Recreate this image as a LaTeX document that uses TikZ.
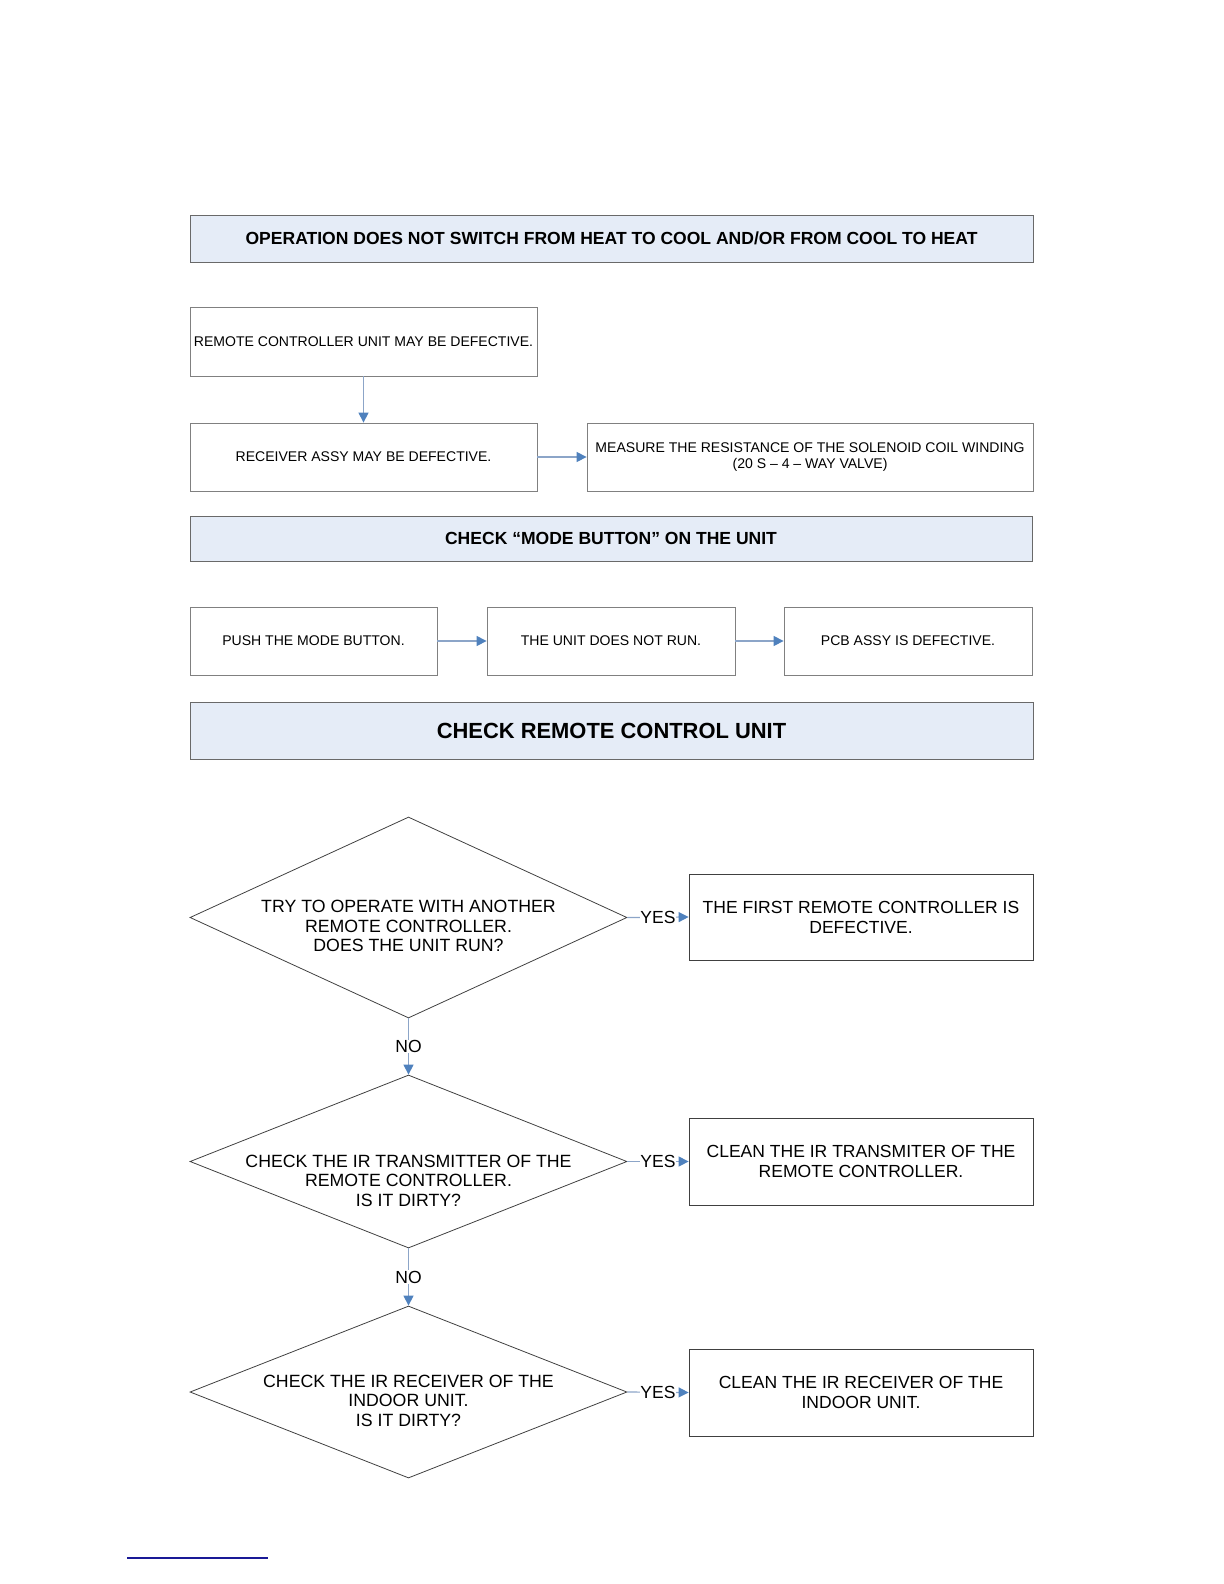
\documentclass[tikz,border=0pt]{standalone}
\usepackage{fontspec}
\setmainfont{Liberation Sans}
\definecolor{headfill}{RGB}{229, 236, 247}
\definecolor{headline}{RGB}{105, 105, 105}
\definecolor{boxline}{RGB}{128, 128, 128}
\definecolor{arrowblue}{RGB}{79, 129, 189}
\definecolor{stemblue}{RGB}{140, 165, 200}
\definecolor{linkblue}{RGB}{25, 25, 150}
\usetikzlibrary{shapes.geometric, arrows.meta, positioning}

\tikzset{
  headbar/.style={draw=headline, fill=headfill, inner sep=0pt, minimum width=421.5bp, font=\fontsize{8.8}{10}\selectfont\bfseries},
  stepbox/.style={draw=boxline, align=center, inner sep=1pt, minimum height=34bp, font=\fontsize{7.05}{8}\selectfont},
  answerbox/.style={draw=black!75, align=center, inner sep=0pt, minimum width=172bp, minimum height=43.5bp, font=\fontsize{8.8}{10}\selectfont},
  query/.style={diamond, draw=black!75, inner sep=0pt, minimum width=218.5bp},
  querytext/.style={align=center, font=\fontsize{8.9}{9.8}\selectfont},
  flow/.style={draw=stemblue, line width=0.6pt, -{Triangle[length=5pt, width=5pt, color=arrowblue]}},
  reply/.style={fill=white, inner sep=0.3pt, font=\fontsize{8.8}{10}\selectfont}
}

\begin{document}
\begin{tikzpicture}[x=1bp, y=-1bp]
  \useasboundingbox (0, 0) rectangle (612, 792);

  % Heading
  \node[headbar, minimum height=23.5bp] (title) at (305.75, 119.25) {OPERATION DOES NOT SWITCH FROM HEAT TO COOL AND/OR FROM COOL TO HEAT};

  % Receiver / valve checks
  \node[stepbox, minimum width=173.5bp, minimum height=34.5bp] (remote) at (181.75, 170.75) {REMOTE CONTROLLER UNIT MAY BE DEFECTIVE.};
  \node[stepbox, minimum width=173.5bp] (receiver) at (181.75, 228.5) {RECEIVER ASSY MAY BE DEFECTIVE.};
  \node[stepbox, minimum width=223bp] (solenoid) at (405, 228.5) {MEASURE THE RESISTANCE OF THE SOLENOID COIL WINDING\\(20 S -- 4 -- WAY VALVE)};

  \draw[flow] (remote) -- (receiver);
  \draw[flow] (receiver) -- (solenoid);

  % Mode button
  \node[headbar, minimum width=421bp, minimum height=22.5bp] (modecheck) at (305.5, 269.25) {CHECK “MODE BUTTON” ON THE UNIT};

  \node[stepbox, minimum width=123.5bp] (push) at (156.75, 320.5) {PUSH THE MODE BUTTON.};
  \node[stepbox, minimum width=124bp] (norun) at (305.5, 320.5) {THE UNIT DOES NOT RUN.};
  \node[stepbox, minimum width=124bp] (pcb) at (454, 320.5) {PCB ASSY IS DEFECTIVE.};

  \draw[flow] (push) -- (norun);
  \draw[flow] (norun) -- (pcb);

  % Remote control unit
  \node[headbar, minimum height=28.5bp, font=\fontsize{11}{13}\selectfont\bfseries] (remotecheck) at (305.75, 365.25) {CHECK REMOTE CONTROL UNIT};

  \node[query, minimum height=100.5bp] (q1) at (204.25, 458.75) {};
  \node[querytext, yshift=-4.25bp] (q1text) at (q1) {TRY TO OPERATE WITH ANOTHER\\REMOTE CONTROLLER.\\DOES THE UNIT RUN?};
  \node[answerbox, minimum height=43bp] (firstdef) at (430.5, 458.5) {THE FIRST REMOTE CONTROLLER IS\\DEFECTIVE.};

  \node[query, minimum height=86.5bp] (q2) at (204.25, 580.75) {};
  \node[querytext, yshift=-9.5bp] (q2text) at (q2) {CHECK THE IR TRANSMITTER OF THE\\REMOTE CONTROLLER.\\IS IT DIRTY?};
  \node[answerbox] (cleantx) at (430.5, 580.75) {CLEAN THE IR TRANSMITER OF THE\\REMOTE CONTROLLER.};

  \node[query, minimum height=86bp] (q3) at (204.25, 696) {};
  \node[querytext, yshift=-4.25bp] (q3text) at (q3) {CHECK THE IR RECEIVER OF THE\\INDOOR UNIT.\\IS IT DIRTY?};
  \node[answerbox] (cleanrx) at (430.5, 696.25) {CLEAN THE IR RECEIVER OF THE\\INDOOR UNIT.};

  \draw[flow] (q1.east) -- node[reply] (yes1) {YES} (firstdef.west);
  \draw[flow] (q2.east) -- node[reply] (yes2) {YES} (cleantx.west);
  \draw[flow] (q3.east) -- node[reply] (yes3) {YES} (cleanrx.west);
  \draw[flow] (q1.south) -- node[reply] (no1) {NO} (q2.north);
  \draw[flow] (q2.south) -- node[reply] (no2) {NO} (q3.north);

  % Footnote rule
  \draw[linkblue, line width=1pt] (63.5, 779) -- (134, 779);
\end{tikzpicture}
\end{document}
